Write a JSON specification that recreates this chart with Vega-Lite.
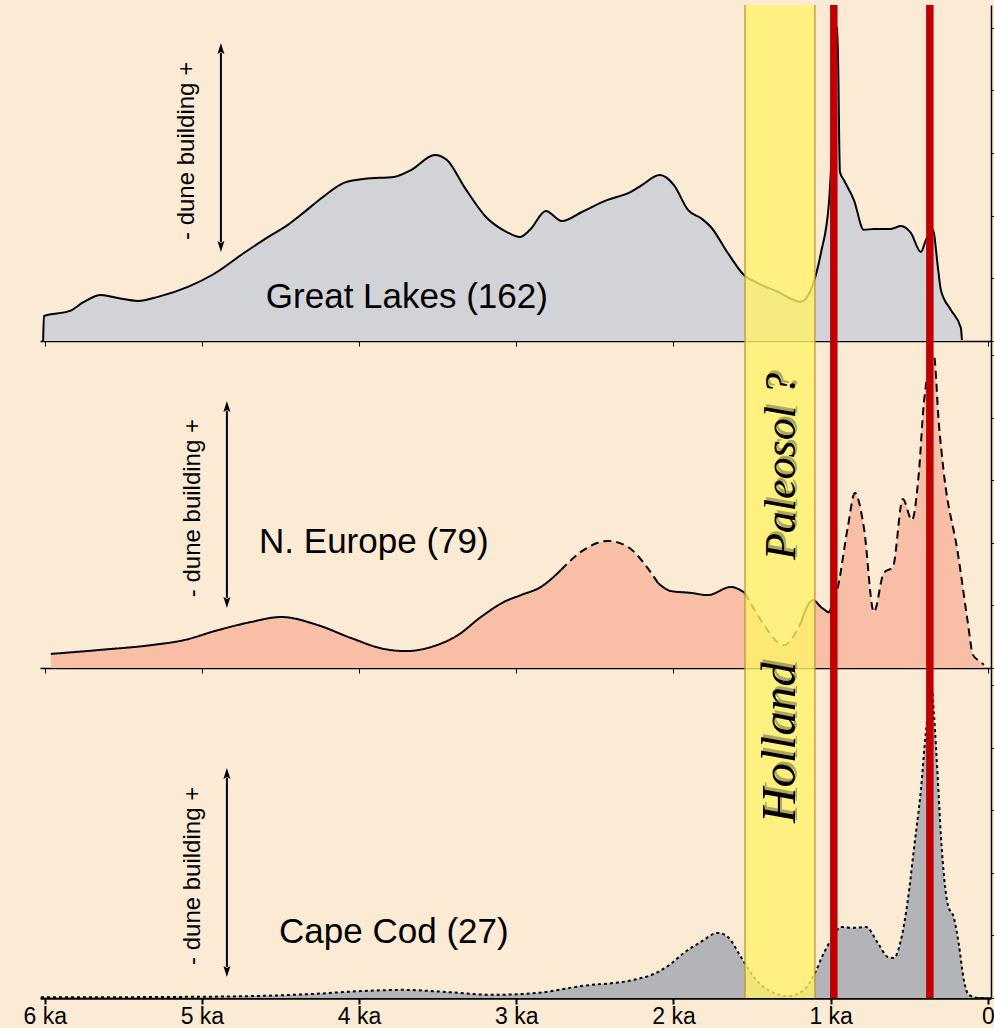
{
  "$schema": "https://vega.github.io/schema/vega-lite/v6.json",
  "background": "#FCEBD4",
  "padding": {"left": 22, "top": 1, "right": 0, "bottom": 0},
  "spacing": 0,
  "bounds": "flush",
  "config": {"view": {"stroke": null}, "axis": {"grid": false}},
  "datasets": {
    "gl": [
      {"ka": 6.01, "v": 0}, {"ka": 6.005, "v": 0.8}, {"ka": 5.84, "v": 0.96}, {"ka": 5.751, "v": 1.25}, {"ka": 5.643, "v": 1.47},
      {"ka": 5.534, "v": 1.37}, {"ka": 5.407, "v": 1.28}, {"ka": 5.28, "v": 1.41}, {"ka": 5.089, "v": 1.73}, {"ka": 4.924, "v": 2.14},
      {"ka": 4.733, "v": 2.81}, {"ka": 4.58, "v": 3.32}, {"ka": 4.453, "v": 3.71}, {"ka": 4.37, "v": 4.03}, {"ka": 4.23, "v": 4.6},
      {"ka": 4.097, "v": 5.05}, {"ka": 3.963, "v": 5.18}, {"ka": 3.779, "v": 5.24}, {"ka": 3.67, "v": 5.46}, {"ka": 3.518, "v": 5.94},
      {"ka": 3.441, "v": 5.78}, {"ka": 3.327, "v": 4.89}, {"ka": 3.193, "v": 3.96}, {"ka": 3.06, "v": 3.48}, {"ka": 2.977, "v": 3.32},
      {"ka": 2.913, "v": 3.55}, {"ka": 2.812, "v": 4.15}, {"ka": 2.71, "v": 3.83}, {"ka": 2.583, "v": 4.12}, {"ka": 2.424, "v": 4.5},
      {"ka": 2.271, "v": 4.76}, {"ka": 2.201, "v": 4.98}, {"ka": 2.087, "v": 5.3}, {"ka": 1.997, "v": 4.98}, {"ka": 1.908, "v": 4.19},
      {"ka": 1.819, "v": 3.9}, {"ka": 1.762, "v": 3.64}, {"ka": 1.654, "v": 2.81}, {"ka": 1.552, "v": 2.11}, {"ka": 1.463, "v": 1.85},
      {"ka": 1.336, "v": 1.57}, {"ka": 1.19, "v": 1.25}, {"ka": 1.126, "v": 1.63}, {"ka": 1.062, "v": 2.81}, {"ka": 1.011, "v": 4.41},
      {"ka": 0.98, "v": 7.38}, {"ka": 0.957, "v": 10.0}, {"ka": 0.941, "v": 5.4}, {"ka": 0.916, "v": 5.14}, {"ka": 0.852, "v": 4.5},
      {"ka": 0.789, "v": 3.55}, {"ka": 0.725, "v": 3.58}, {"ka": 0.617, "v": 3.58}, {"ka": 0.553, "v": 3.67}, {"ka": 0.49, "v": 3.45},
      {"ka": 0.426, "v": 2.84}, {"ka": 0.394, "v": 3.23}, {"ka": 0.35, "v": 3.55}, {"ka": 0.318, "v": 2.36}, {"ka": 0.299, "v": 1.63},
      {"ka": 0.235, "v": 0.99}, {"ka": 0.172, "v": 0.42}, {"ka": 0.165, "v": 0.03}
    ],
    "ne": [
      {"ka": 5.961, "v": 0.45, "seg": "a", "style": "solid"}, {"ka": 5.643, "v": 0.58, "seg": "a", "style": "solid"},
      {"ka": 5.324, "v": 0.73, "seg": "a", "style": "solid"}, {"ka": 5.115, "v": 0.89, "seg": "a", "style": "solid"},
      {"ka": 4.898, "v": 1.21, "seg": "a", "style": "solid"}, {"ka": 4.688, "v": 1.47, "seg": "a", "style": "solid"},
      {"ka": 4.497, "v": 1.63, "seg": "a", "style": "solid"}, {"ka": 4.262, "v": 1.37, "seg": "a", "style": "solid"},
      {"ka": 4.052, "v": 0.96, "seg": "a", "style": "solid"}, {"ka": 3.842, "v": 0.61, "seg": "a", "style": "solid"},
      {"ka": 3.702, "v": 0.54, "seg": "a", "style": "solid"}, {"ka": 3.543, "v": 0.67, "seg": "a", "style": "solid"},
      {"ka": 3.372, "v": 1.05, "seg": "a", "style": "solid"}, {"ka": 3.225, "v": 1.63, "seg": "a", "style": "solid"},
      {"ka": 3.079, "v": 2.11, "seg": "a", "style": "solid"}, {"ka": 2.971, "v": 2.33, "seg": "a", "style": "solid"},
      {"ka": 2.844, "v": 2.59, "seg": "a", "style": "solid"}, {"ka": 2.716, "v": 3.13, "seg": "a", "style": "solid"},
      {"ka": 2.716, "v": 3.13, "seg": "b", "style": "dashed", "dup": true}, {"ka": 2.589, "v": 3.71, "seg": "b", "style": "dashed"},
      {"ka": 2.417, "v": 4.06, "seg": "b", "style": "dashed"}, {"ka": 2.29, "v": 3.87, "seg": "b", "style": "dashed"},
      {"ka": 2.188, "v": 3.35, "seg": "b", "style": "dashed"}, {"ka": 2.099, "v": 2.72, "seg": "b", "style": "dashed"},
      {"ka": 2.099, "v": 2.72, "seg": "c", "style": "solid", "dup": true}, {"ka": 2.017, "v": 2.46, "seg": "c", "style": "solid"},
      {"ka": 1.889, "v": 2.4, "seg": "c", "style": "solid"}, {"ka": 1.781, "v": 2.33, "seg": "c", "style": "solid"},
      {"ka": 1.635, "v": 2.59, "seg": "c", "style": "solid"}, {"ka": 1.546, "v": 2.4, "seg": "c", "style": "solid"},
      {"ka": 1.546, "v": 2.4, "seg": "d", "style": "dashed", "dup": true}, {"ka": 1.444, "v": 1.53, "seg": "d", "style": "dashed"},
      {"ka": 1.298, "v": 0.73, "seg": "d", "style": "dashed"}, {"ka": 1.19, "v": 1.44, "seg": "d", "style": "dashed"},
      {"ka": 1.19, "v": 1.44, "seg": "e", "style": "solid", "dup": true}, {"ka": 1.113, "v": 2.17, "seg": "e", "style": "solid"},
      {"ka": 1.062, "v": 1.95, "seg": "e", "style": "solid"}, {"ka": 1.011, "v": 1.76, "seg": "e", "style": "solid"},
      {"ka": 1.011, "v": 1.76, "seg": "f", "style": "dashed", "dup": true}, {"ka": 0.954, "v": 2.59, "seg": "f", "style": "dashed"},
      {"ka": 0.891, "v": 4.5, "seg": "f", "style": "dashed"}, {"ka": 0.846, "v": 5.59, "seg": "f", "style": "dashed"},
      {"ka": 0.789, "v": 4.5, "seg": "f", "style": "dashed"}, {"ka": 0.725, "v": 1.79, "seg": "f", "style": "dashed"},
      {"ka": 0.662, "v": 3.04, "seg": "f", "style": "dashed"}, {"ka": 0.604, "v": 3.23, "seg": "f", "style": "dashed"},
      {"ka": 0.541, "v": 5.4, "seg": "f", "style": "dashed"}, {"ka": 0.483, "v": 4.73, "seg": "f", "style": "dashed"},
      {"ka": 0.439, "v": 6.23, "seg": "f", "style": "dashed"}, {"ka": 0.407, "v": 8.47, "seg": "f", "style": "dashed"},
      {"ka": 0.344, "v": 10.0, "seg": "f", "style": "dashed"}, {"ka": 0.312, "v": 7.83, "seg": "f", "style": "dashed"},
      {"ka": 0.28, "v": 6.23, "seg": "f", "style": "dashed"}, {"ka": 0.191, "v": 3.67, "seg": "f", "style": "dashed"},
      {"ka": 0.127, "v": 1.44, "seg": "f", "style": "dashed"}, {"ka": 0.095, "v": 0.42, "seg": "f", "style": "dashed"},
      {"ka": 0.045, "v": 0.19, "seg": "f", "style": "dashed"}, {"ka": 0.025, "v": 0.1, "seg": "f", "style": "dashed"}
    ],
    "cc": [
      {"ka": 6.024, "v": 0.02}, {"ka": 5.324, "v": 0.03}, {"ka": 4.688, "v": 0.06}, {"ka": 4.294, "v": 0.13}, {"ka": 3.989, "v": 0.22},
      {"ka": 3.721, "v": 0.26}, {"ka": 3.441, "v": 0.19}, {"ka": 3.155, "v": 0.1}, {"ka": 2.869, "v": 0.16}, {"ka": 2.589, "v": 0.38},
      {"ka": 2.252, "v": 0.58}, {"ka": 2.099, "v": 0.83}, {"ka": 2.017, "v": 1.09}, {"ka": 1.934, "v": 1.44}, {"ka": 1.826, "v": 1.79},
      {"ka": 1.718, "v": 2.08}, {"ka": 1.654, "v": 1.95}, {"ka": 1.571, "v": 1.31}, {"ka": 1.489, "v": 0.67}, {"ka": 1.361, "v": 0.16},
      {"ka": 1.266, "v": 0.06}, {"ka": 1.17, "v": 0.26}, {"ka": 1.107, "v": 0.73}, {"ka": 1.043, "v": 1.44}, {"ka": 0.986, "v": 1.95},
      {"ka": 0.935, "v": 2.27}, {"ka": 0.852, "v": 2.24}, {"ka": 0.776, "v": 2.27}, {"ka": 0.7, "v": 1.76}, {"ka": 0.636, "v": 1.31},
      {"ka": 0.598, "v": 1.28}, {"ka": 0.553, "v": 1.85}, {"ka": 0.509, "v": 3.13}, {"ka": 0.471, "v": 4.73}, {"ka": 0.426, "v": 6.65},
      {"ka": 0.394, "v": 8.5}, {"ka": 0.356, "v": 9.9}, {"ka": 0.344, "v": 9.14}, {"ka": 0.318, "v": 6.96}, {"ka": 0.299, "v": 5.21},
      {"ka": 0.254, "v": 2.97}, {"ka": 0.216, "v": 2.56}, {"ka": 0.184, "v": 1.69}, {"ka": 0.153, "v": 0.58}, {"ka": 0.121, "v": 0.1},
      {"ka": 0.057, "v": 0.0}, {"ka": 0.013, "v": 0.0}
    ],
    "band": [{"ka": 1.545, "ka2": 1.1}],
    "bandEdges": [{"ka": 1.545}, {"ka": 1.1}],
    "red": [{"ka": 0.98}, {"ka": 0.369}]
  },
  "vconcat": [
    {
      "width": 951,
      "height": 336,
      "layer": [
        {
          "data": {"name": "gl"},
          "mark": {"type": "area", "interpolate": "monotone", "fill": "#D2D3D6"},
          "encoding": {
            "x": {"field": "ka", "type": "quantitative", "scale": {"domain": [6.03, -0.02], "nice": false, "zero": false},
                  "axis": {"title": null, "values": [6, 5, 4, 3, 2, 1, 0], "labels": false, "tickSize": 5, "domainColor": "#000", "tickColor": "#000", "domainWidth": 1.5}},
            "y": {"field": "v", "type": "quantitative", "scale": {"domain": [0, 10.73], "nice": false},
                  "axis": {"title": null, "orient": "right", "values": [0, 1, 2, 3, 4, 5, 6, 7, 8, 9, 10], "labels": false, "tickSize": 5, "domainColor": "#000", "tickColor": "#000", "domainWidth": 1.5}}
          }
        },
        {
          "data": {"name": "gl"},
          "mark": {"type": "line", "interpolate": "monotone", "stroke": "#000", "strokeWidth": 2},
          "encoding": {"x": {"field": "ka", "type": "quantitative"}, "y": {"field": "v", "type": "quantitative"}}
        },
        {
          "data": {"name": "band"},
          "mark": {"type": "rect", "fill": "#FEF26A", "opacity": 0.8},
          "encoding": {"x": {"field": "ka", "type": "quantitative"}, "x2": {"field": "ka2"}}
        },
        {
          "data": {"name": "bandEdges"},
          "mark": {"type": "rule", "stroke": "#C8922E", "strokeWidth": 1.3},
          "encoding": {"x": {"field": "ka", "type": "quantitative"}}
        },
        {
          "data": {"name": "red"},
          "mark": {"type": "rule", "stroke": "#C00000", "strokeWidth": 7.5},
          "encoding": {"x": {"field": "ka", "type": "quantitative"}}
        },
        {
          "data": {"values": [{"ka": 3.696, "v": 1.05, "t": "Great Lakes (162)"}]},
          "mark": {"type": "text", "font": "Liberation Sans", "fontSize": 35, "align": "center", "baseline": "alphabetic", "color": "#000"},
          "encoding": {"x": {"field": "ka", "type": "quantitative"}, "y": {"field": "v", "type": "quantitative"}, "text": {"field": "t"}}
        },
        {
          "data": {"values": [{"ka": 5.095, "v": 6.07, "t": "- dune building +"}]},
          "mark": {"type": "text", "font": "Liberation Sans", "fontSize": 24, "angle": 270, "align": "center", "baseline": "middle", "color": "#000"},
          "encoding": {"x": {"field": "ka", "type": "quantitative"}, "y": {"field": "v", "type": "quantitative"}, "text": {"field": "t"}}
        },
        {
          "data": {"values": [{"ka": 4.879, "v": 9.2, "v2": 3.16}]},
          "mark": {"type": "rule", "stroke": "#000", "strokeWidth": 2},
          "encoding": {"x": {"field": "ka", "type": "quantitative"}, "y": {"field": "v", "type": "quantitative"}, "y2": {"field": "v2"}}
        },
        {
          "data": {"values": [{"ka": 4.879, "v": 9.2}]},
          "mark": {"type": "point", "shape": "M0,-1L0.35,0.1L0,-0.1L-0.35,0.1Z", "size": 400, "filled": true, "color": "#000", "opacity": 1},
          "encoding": {"x": {"field": "ka", "type": "quantitative"}, "y": {"field": "v", "type": "quantitative"}}
        },
        {
          "data": {"values": [{"ka": 4.879, "v": 3.16}]},
          "mark": {"type": "point", "shape": "M0,1L0.35,-0.1L0,0.1L-0.35,-0.1Z", "size": 400, "filled": true, "color": "#000", "opacity": 1},
          "encoding": {"x": {"field": "ka", "type": "quantitative"}, "y": {"field": "v", "type": "quantitative"}}
        }
      ]
    },
    {
      "width": 951,
      "height": 327,
      "layer": [
        {
          "data": {"name": "ne"},
          "transform": [{"filter": "!datum.dup"}],
          "mark": {"type": "area", "interpolate": "monotone", "fill": "#F9BFA6"},
          "encoding": {
            "x": {"field": "ka", "type": "quantitative", "scale": {"domain": [6.03, -0.02], "nice": false, "zero": false},
                  "axis": {"title": null, "values": [6, 5, 4, 3, 2, 1, 0], "labels": false, "tickSize": 5, "domainColor": "#000", "tickColor": "#000", "domainWidth": 1.5}},
            "y": {"field": "v", "type": "quantitative", "scale": {"domain": [0, 10.45], "nice": false},
                  "axis": {"title": null, "orient": "right", "values": [0, 1, 2, 3, 4, 5, 6, 7, 8, 9, 10], "labels": false, "tickSize": 5, "domainColor": "#000", "tickColor": "#000", "domainWidth": 1.5}}
          }
        },
        {
          "data": {"name": "ne"},
          "mark": {"type": "line", "interpolate": "monotone", "stroke": "#000", "strokeWidth": 2},
          "encoding": {
            "x": {"field": "ka", "type": "quantitative"},
            "y": {"field": "v", "type": "quantitative"},
            "detail": {"field": "seg"},
            "strokeDash": {"field": "style", "type": "nominal", "scale": {"domain": ["solid", "dashed"], "range": [[1, 0], [8, 5]]}, "legend": null}
          }
        },
        {
          "data": {"name": "band"},
          "mark": {"type": "rect", "fill": "#FEF26A", "opacity": 0.8},
          "encoding": {"x": {"field": "ka", "type": "quantitative"}, "x2": {"field": "ka2"}}
        },
        {
          "data": {"name": "bandEdges"},
          "mark": {"type": "rule", "stroke": "#C8922E", "strokeWidth": 1.3},
          "encoding": {"x": {"field": "ka", "type": "quantitative"}}
        },
        {
          "data": {"name": "red"},
          "mark": {"type": "rule", "stroke": "#C00000", "strokeWidth": 7.5},
          "encoding": {"x": {"field": "ka", "type": "quantitative"}}
        },
        {
          "data": {"values": [{"ka": 3.906, "v": 3.67, "t": "N. Europe (79)"}]},
          "mark": {"type": "text", "font": "Liberation Sans", "fontSize": 35, "align": "center", "baseline": "alphabetic", "color": "#000"},
          "encoding": {"x": {"field": "ka", "type": "quantitative"}, "y": {"field": "v", "type": "quantitative"}, "text": {"field": "t"}}
        },
        {
          "data": {"values": [{"ka": 5.057, "v": 5.11, "t": "- dune building +"}]},
          "mark": {"type": "text", "font": "Liberation Sans", "fontSize": 24, "angle": 270, "align": "center", "baseline": "middle", "color": "#000"},
          "encoding": {"x": {"field": "ka", "type": "quantitative"}, "y": {"field": "v", "type": "quantitative"}, "text": {"field": "t"}}
        },
        {
          "data": {"values": [{"ka": 4.841, "v": 8.21, "v2": 2.24}]},
          "mark": {"type": "rule", "stroke": "#000", "strokeWidth": 2},
          "encoding": {"x": {"field": "ka", "type": "quantitative"}, "y": {"field": "v", "type": "quantitative"}, "y2": {"field": "v2"}}
        },
        {
          "data": {"values": [{"ka": 4.841, "v": 8.21}]},
          "mark": {"type": "point", "shape": "M0,-1L0.35,0.1L0,-0.1L-0.35,0.1Z", "size": 400, "filled": true, "color": "#000", "opacity": 1},
          "encoding": {"x": {"field": "ka", "type": "quantitative"}, "y": {"field": "v", "type": "quantitative"}}
        },
        {
          "data": {"values": [{"ka": 4.841, "v": 2.24}]},
          "mark": {"type": "point", "shape": "M0,1L0.35,-0.1L0,0.1L-0.35,-0.1Z", "size": 400, "filled": true, "color": "#000", "opacity": 1},
          "encoding": {"x": {"field": "ka", "type": "quantitative"}, "y": {"field": "v", "type": "quantitative"}}
        },
        {
          "data": {"values": [{"ka": 1.228, "v": 3.45, "t": "Paleosol ?"}]},
          "mark": {"type": "text", "font": "Liberation Serif", "fontStyle": "italic", "fontSize": 44, "angle": 270, "align": "left", "baseline": "alphabetic", "color": "#000", "opacity": 0.3, "dx": 3, "dy": 2},
          "encoding": {"x": {"field": "ka", "type": "quantitative"}, "y": {"field": "v", "type": "quantitative"}, "text": {"field": "t"}}
        },
        {
          "data": {"values": [{"ka": 1.228, "v": 3.45, "t": "Paleosol ?"}]},
          "mark": {"type": "text", "font": "Liberation Serif", "fontStyle": "italic", "fontSize": 44, "angle": 270, "align": "left", "baseline": "alphabetic", "color": "#000"},
          "encoding": {"x": {"field": "ka", "type": "quantitative"}, "y": {"field": "v", "type": "quantitative"}, "text": {"field": "t"}}
        }
      ]
    },
    {
      "width": 951,
      "height": 330,
      "layer": [
        {
          "data": {"name": "cc"},
          "mark": {"type": "area", "interpolate": "monotone", "fill": "#B3B4B8"},
          "encoding": {
            "x": {"field": "ka", "type": "quantitative", "scale": {"domain": [6.03, -0.02], "nice": false, "zero": false},
                  "axis": {"title": null, "values": [6, 5, 4, 3, 2, 1, 0], "labelExpr": "datum.value == 0 ? '0' : datum.value + ' ka'", "tickSize": 6, "domainColor": "#000", "tickColor": "#000", "domainWidth": 2.5, "tickWidth": 2, "labelFont": "Liberation Sans", "labelFontSize": 23, "labelColor": "#000", "labelPadding": 1, "labelFlush": false}},
            "y": {"field": "v", "type": "quantitative", "scale": {"domain": [0, 10.54], "nice": false},
                  "axis": {"title": null, "orient": "right", "values": [0, 1, 2, 3, 4, 5, 6, 7, 8, 9, 10], "labels": false, "tickSize": 5, "domainColor": "#000", "tickColor": "#000", "domainWidth": 1.5}}
          }
        },
        {
          "data": {"name": "cc"},
          "mark": {"type": "line", "interpolate": "monotone", "stroke": "#000", "strokeWidth": 2, "strokeDash": [3, 3]},
          "encoding": {"x": {"field": "ka", "type": "quantitative"}, "y": {"field": "v", "type": "quantitative"}}
        },
        {
          "data": {"name": "band"},
          "mark": {"type": "rect", "fill": "#FEF26A", "opacity": 0.8},
          "encoding": {"x": {"field": "ka", "type": "quantitative"}, "x2": {"field": "ka2"}}
        },
        {
          "data": {"name": "bandEdges"},
          "mark": {"type": "rule", "stroke": "#C8922E", "strokeWidth": 1.3},
          "encoding": {"x": {"field": "ka", "type": "quantitative"}}
        },
        {
          "data": {"name": "red"},
          "mark": {"type": "rule", "stroke": "#C00000", "strokeWidth": 7.5},
          "encoding": {"x": {"field": "ka", "type": "quantitative"}}
        },
        {
          "data": {"values": [{"ka": 3.779, "v": 1.76, "t": "Cape Cod (27)"}]},
          "mark": {"type": "text", "font": "Liberation Sans", "fontSize": 35, "align": "center", "baseline": "alphabetic", "color": "#000"},
          "encoding": {"x": {"field": "ka", "type": "quantitative"}, "y": {"field": "v", "type": "quantitative"}, "text": {"field": "t"}}
        },
        {
          "data": {"values": [{"ka": 5.057, "v": 3.9, "t": "- dune building +"}]},
          "mark": {"type": "text", "font": "Liberation Sans", "fontSize": 24, "angle": 270, "align": "center", "baseline": "middle", "color": "#000"},
          "encoding": {"x": {"field": "ka", "type": "quantitative"}, "y": {"field": "v", "type": "quantitative"}, "text": {"field": "t"}}
        },
        {
          "data": {"values": [{"ka": 4.841, "v": 7.03, "v2": 0.99}]},
          "mark": {"type": "rule", "stroke": "#000", "strokeWidth": 2},
          "encoding": {"x": {"field": "ka", "type": "quantitative"}, "y": {"field": "v", "type": "quantitative"}, "y2": {"field": "v2"}}
        },
        {
          "data": {"values": [{"ka": 4.841, "v": 7.03}]},
          "mark": {"type": "point", "shape": "M0,-1L0.35,0.1L0,-0.1L-0.35,0.1Z", "size": 400, "filled": true, "color": "#000", "opacity": 1},
          "encoding": {"x": {"field": "ka", "type": "quantitative"}, "y": {"field": "v", "type": "quantitative"}}
        },
        {
          "data": {"values": [{"ka": 4.841, "v": 0.99}]},
          "mark": {"type": "point", "shape": "M0,1L0.35,-0.1L0,0.1L-0.35,-0.1Z", "size": 400, "filled": true, "color": "#000", "opacity": 1},
          "encoding": {"x": {"field": "ka", "type": "quantitative"}, "y": {"field": "v", "type": "quantitative"}}
        },
        {
          "data": {"values": [{"ka": 1.228, "v": 5.59, "t": "Holland"}]},
          "mark": {"type": "text", "font": "Liberation Serif", "fontStyle": "italic", "fontSize": 49, "angle": 270, "align": "left", "baseline": "alphabetic", "color": "#000", "opacity": 0.3, "dx": 3, "dy": 2},
          "encoding": {"x": {"field": "ka", "type": "quantitative"}, "y": {"field": "v", "type": "quantitative"}, "text": {"field": "t"}}
        },
        {
          "data": {"values": [{"ka": 1.228, "v": 5.59, "t": "Holland"}]},
          "mark": {"type": "text", "font": "Liberation Serif", "fontStyle": "italic", "fontSize": 49, "angle": 270, "align": "left", "baseline": "alphabetic", "color": "#000"},
          "encoding": {"x": {"field": "ka", "type": "quantitative"}, "y": {"field": "v", "type": "quantitative"}, "text": {"field": "t"}}
        }
      ]
    }
  ]
}
